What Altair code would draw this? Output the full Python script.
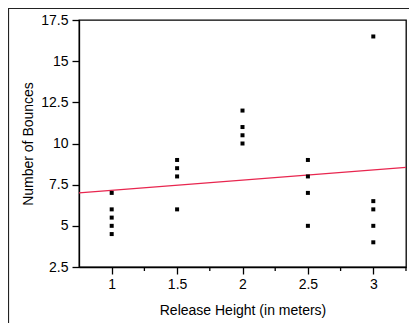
import altair as alt
import pandas as pd

# Scatter data: release height (m) vs number of bounces
heights = [1, 1, 1, 1, 1,
           1.5, 1.5, 1.5, 1.5,
           2, 2, 2, 2,
           2.5, 2.5, 2.5, 2.5,
           3, 3, 3, 3, 3]
bounces = [7, 6, 5.5, 5, 4.5,
           9, 8.5, 8, 6,
           12, 11, 10.5, 10,
           9, 8, 7, 5,
           16.5, 6.5, 6, 5, 4]

# Fitted line end points
fit_x = [0.75, 3.25]
fit_y = [7.0, 8.55]

x_ticks = [1, 1.5, 2, 2.5, 3]
x_minor = [1.25, 1.75, 2.25, 2.75, 3.25]
y_ticks = [2.5, 5, 7.5, 10, 12.5, 15, 17.5]

pts = pd.DataFrame({"h": heights, "b": bounces})
fit = pd.DataFrame({"h": fit_x, "b": fit_y})
minor = pd.DataFrame({"h": x_minor})
one = pd.DataFrame({"k": [0]})

FONT = "Liberation Sans"
xscale = alt.Scale(domain=[0.75, 3.25], nice=False, zero=False)
yscale = alt.Scale(domain=[2.5, 17.5], nice=False, zero=False)

xaxis = alt.Axis(values=x_ticks, format=".1~f", title="Release Height (in meters)",
                 tickSize=7, labelPadding=3, titlePadding=12, grid=False)
yaxis = alt.Axis(values=y_ticks, format=".1~f", title="Number of Bounces",
                 tickSize=7, labelPadding=4, titlePadding=5, grid=False)

points = alt.Chart(pts).mark_square(size=16, color="black", opacity=1).encode(
    x=alt.X("h:Q", scale=xscale, axis=xaxis),
    y=alt.Y("b:Q", scale=yscale, axis=yaxis),
)

line = alt.Chart(fit).mark_line(color="#e8264f", strokeWidth=1.4).encode(
    x=alt.X("h:Q", scale=xscale),
    y=alt.Y("b:Q", scale=yscale),
)

minor_ticks = alt.Chart(minor).mark_rule(color="black", strokeWidth=1.3).encode(
    x=alt.X("h:Q", scale=xscale),
    y=alt.value(247),
    y2=alt.value(251),
)

frame = alt.Chart(one).mark_rect(
    filled=False, stroke="#222", strokeWidth=1.2, clip=False
).encode(
    x=alt.value(-70.5), x2=alt.value(420),
    y=alt.value(-11.5), y2=alt.value(400),
)

chart = alt.layer(frame, minor_ticks, line, points).properties(
    width=327, height=247,
    autosize=alt.AutoSizeParams(type="none"),
    padding={"left": 71, "top": 12, "right": 3, "bottom": 56},
).configure_view(
    stroke="black", strokeWidth=1.3
).configure_axis(
    labelFont=FONT, titleFont=FONT, labelFontSize=14, titleFontSize=14,
    labelColor="black", titleColor="black", titleFontWeight="normal",
    domainColor="black", tickColor="black", domainWidth=1.3, tickWidth=1.3,
)

chart.save("out.html", embed_options={"renderer": "svg", "actions": False})
